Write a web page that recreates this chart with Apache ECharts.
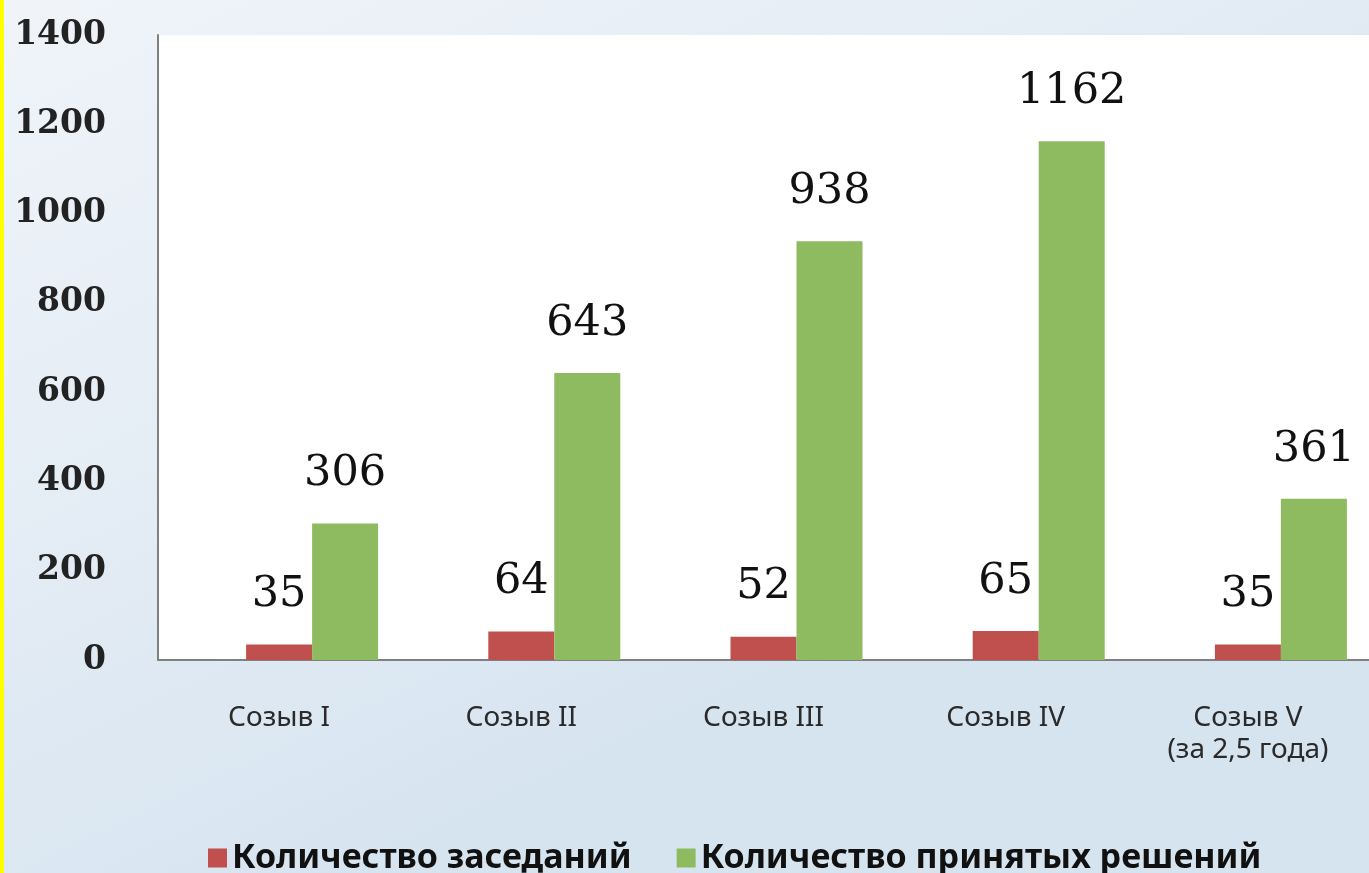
<!DOCTYPE html>
<html>
<head>
<meta charset="utf-8">
<script src="https://cdn.jsdelivr.net/npm/echarts@6/dist/echarts.min.js"></script>
<style>
  html, body { margin: 0; padding: 0; }
  #chart { width: 1369px; height: 873px; }
</style>
</head>
<body>
<div id="chart"></div>
<script>
// данные
const categories = ['Созыв I', 'Созыв II', 'Созыв III', 'Созыв IV', 'Созыв V\n(за 2,5 года)']
const meetings = [35, 64, 52, 65, 35]
const decisions = [306, 643, 938, 1162, 361]
const spacer = [null, null, null, null, null] // пустой ряд, как в исходной диаграмме
const yTicks = [0, 200, 400, 600, 800, 1000, 1200, 1400]

const chart = echarts.init(document.getElementById('chart'))

const valueLabel = {
  show: true,
  position: 'top',
  distance: 28,
  fontFamily: 'DejaVu Serif',
  fontSize: 43,
  color: '#111'
}

const option = {
  backgroundColor: new echarts.graphic.LinearGradient(0, 0, 0.3, 1, [
    { offset: 0, color: '#f0f4f9' },
    { offset: 0.6, color: '#e2ebf4' },
    { offset: 1, color: '#d6e4f0' }
  ]),
  animation: false,
  graphic: [
    { type: 'rect', left: 0, top: 0, shape: { width: 4, height: 873 }, style: { fill: '#ffff00' } }
  ],
  grid: {
    left: 158,
    top: 35,
    width: 1220,
    height: 625,
    show: true,
    backgroundColor: '#fff',
    borderWidth: 0
  },
  legend: {
    data: ['Количество заседаний', 'Количество принятых решений'],
    top: 836,
    left: 203,
    itemWidth: 19,
    itemHeight: 19,
    itemGap: 45,
    icon: 'rect',
    textStyle: {
      fontFamily: 'Noto Sans',
      fontWeight: 'bold',
      fontSize: 34,
      color: '#111'
    }
  },
  xAxis: {
    type: 'category',
    data: categories,
    axisLine: { lineStyle: { color: '#808080', width: 2 } },
    axisTick: { show: false },
    axisLabel: {
      margin: 42,
      fontFamily: 'Noto Sans',
      fontSize: 28,
      lineHeight: 32,
      color: '#2a2a2a',
      interval: 0,
      verticalAlign: 'top'
    }
  },
  yAxis: {
    type: 'value',
    min: 0,
    max: 1400,
    interval: 200,
    axisLine: { show: true, lineStyle: { color: '#808080', width: 2 } },
    axisTick: { show: false },
    splitLine: { show: false },
    axisLabel: {
      margin: 52,
      fontFamily: 'DejaVu Serif',
      fontWeight: 'bold',
      fontSize: 33,
      color: '#222',
      formatter: v => (yTicks.includes(v) ? String(v) : '')
    }
  },
  series: [
    {
      name: 'spacer',
      type: 'bar',
      barWidth: 66,
      barGap: '0%',
      data: spacer
    },
    {
      name: 'Количество заседаний',
      type: 'bar',
      barWidth: 66,
      barGap: '0%',
      itemStyle: { color: '#c0504d' },
      label: valueLabel,
      data: meetings
    },
    {
      name: 'Количество принятых решений',
      type: 'bar',
      barWidth: 66,
      barGap: '0%',
      itemStyle: { color: '#8fbb60' },
      label: valueLabel,
      data: decisions
    }
  ]
}

chart.setOption(option)
</script>
</body>
</html>
